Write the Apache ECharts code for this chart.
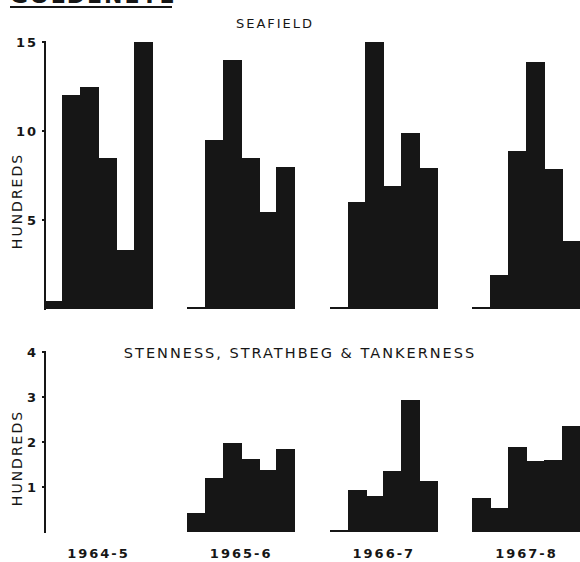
<!DOCTYPE html>
<html>
<head>
<meta charset="utf-8">
<script src="https://cdn.jsdelivr.net/npm/echarts@6/dist/echarts.min.js"></script>
<style>
html,body{margin:0;padding:0;background:#fff;}
#chart{width:580px;height:562px;}
svg text{letter-spacing:2px;}
svg path, svg rect{shape-rendering:crispEdges;}
</style>
</head>
<body>
<div id="chart"></div>
<script>
// ---- data ----
const seasons = ['1964-5', '1965-6', '1966-7', '1967-8'];
const seafield6465 = [0.45, 12.0, 12.5, 8.5, 3.3, 15.0];
const seafield6566 = [0.12, 9.5, 14.0, 8.5, 5.45, 8.0];
const seafield6667 = [0.12, 6.0, 15.0, 6.9, 9.9, 7.9];
const seafield6768 = [0.1, 1.9, 8.9, 13.9, 7.85, 3.8];
const others6465 = [];
const others6566 = [0.42, 1.2, 1.97, 1.62, 1.37, 1.85];
const others6667 = [0.04, 0.94, 0.81, 1.35, 2.94, 1.14];
const others6768 = [0.75, 0.54, 1.9, 1.57, 1.59, 2.35];
const seafieldTicks = [5, 10, 15];
const othersTicks = [1, 2, 3, 4];

const barsPerSeason = 6;
const gapSlots = 2;
const seafieldGroups = [seafield6465, seafield6566, seafield6667, seafield6768];
const othersGroups = [others6465, others6566, others6667, others6768];

// build category slots (6 bars per season + 2 empty slots between seasons)
const slots = [];
seasons.forEach((s, g) => {
  for (let i = 0; i < barsPerSeason; i++) slots.push(s + ' #' + (i + 1));
  if (g < seasons.length - 1) for (let k = 0; k < gapSlots; k++) slots.push('gap ' + g + '-' + k);
});
function buildSeries(groups) {
  const out = [];
  groups.forEach((arr, g) => {
    for (let i = 0; i < barsPerSeason; i++) {
      const v = arr[i];
      out.push(v == null ? '-' : v);
    }
    if (g < groups.length - 1) for (let k = 0; k < gapSlots; k++) out.push('-');
  });
  return out;
}
const seasonCentres = seasons.map((s, g) => g * (barsPerSeason + gapSlots) + barsPerSeason / 2);

const ink = '#161616';
const font = 'DejaVu Sans';

const chart = echarts.init(document.getElementById('chart'), null, {renderer: 'svg'});
chart.setOption({
  animation: false,
  backgroundColor: '#ffffff',
  textStyle: {fontFamily: font, color: ink},
  title: [
    {text: 'SEAFIELD', left: 270, top: 12, textAlign: 'center',
     textStyle: {fontFamily: font, fontSize: 13, fontWeight: 'normal', color: ink}},
    {text: 'STENNESS, STRATHBEG & TANKERNESS', left: 295, top: 340, textAlign: 'center',
     textStyle: {fontFamily: font, fontSize: 14.5, fontWeight: 'normal', color: ink}}
  ],
  grid: [
    {left: 45, top: 42, width: 536, height: 267},
    {left: 45, top: 352, width: 536, height: 180}
  ],
  xAxis: [
    {gridIndex: 0, type: 'category', data: slots, show: false},
    {gridIndex: 1, type: 'category', data: slots, show: false},
    {gridIndex: 1, type: 'value', min: 0, max: slots.length, position: 'bottom',
     axisLine: {show: false}, axisTick: {show: false}, splitLine: {show: false},
     axisLabel: {customValues: seasonCentres, margin: 15,
       formatter: v => seasons[seasonCentres.indexOf(v)] || '',
       fontFamily: font, fontSize: 13, fontWeight: 'bold', color: ink}}
  ],
  yAxis: [
    {gridIndex: 0, type: 'value', min: 0, max: 15, interval: 5,
     axisLine: {show: true, lineStyle: {color: ink, width: 2}},
     axisTick: {show: true, length: 3, customValues: seafieldTicks, lineStyle: {color: ink, width: 1.5}},
     splitLine: {show: false},
     axisLabel: {customValues: seafieldTicks, margin: 7, fontFamily: font, fontSize: 13, fontWeight: 'bold', color: ink}},
    {gridIndex: 1, type: 'value', min: 0, max: 4, interval: 1,
     axisLine: {show: true, lineStyle: {color: ink, width: 2}},
     axisTick: {show: true, length: 3, customValues: othersTicks, lineStyle: {color: ink, width: 1.5}},
     splitLine: {show: false},
     axisLabel: {customValues: othersTicks, margin: 7, fontFamily: font, fontSize: 13, fontWeight: 'bold', color: ink}}
  ],
  series: [
    {name: 'Seafield', type: 'bar', xAxisIndex: 0, yAxisIndex: 0,
     barWidth: '106%', data: buildSeries(seafieldGroups),
     itemStyle: {color: ink, borderWidth: 0}},
    {name: 'Stenness, Strathbeg & Tankerness', type: 'bar', xAxisIndex: 1, yAxisIndex: 1,
     barWidth: '106%', data: buildSeries(othersGroups),
     itemStyle: {color: ink, borderWidth: 0}}
  ],
  graphic: [
    {type: 'text', x: 10, y: 6,
     style: {text: 'GOLDENEYE', font: 'bold 22px "DejaVu Sans"', fill: ink, textAlign: 'left', textVerticalAlign: 'bottom'}},
    {type: 'rect', shape: {x: 10, y: 6, width: 162, height: 2}, style: {fill: ink}},
    {type: 'text', x: 17, y: 201, rotation: Math.PI / 2,
     style: {text: 'HUNDREDS', font: '14px "DejaVu Sans"', fill: ink, textAlign: 'center', textVerticalAlign: 'middle'}},
    {type: 'text', x: 17, y: 458, rotation: Math.PI / 2,
     style: {text: 'HUNDREDS', font: '14px "DejaVu Sans"', fill: ink, textAlign: 'center', textVerticalAlign: 'middle'}}
  ]
});
</script>
</body>
</html>
